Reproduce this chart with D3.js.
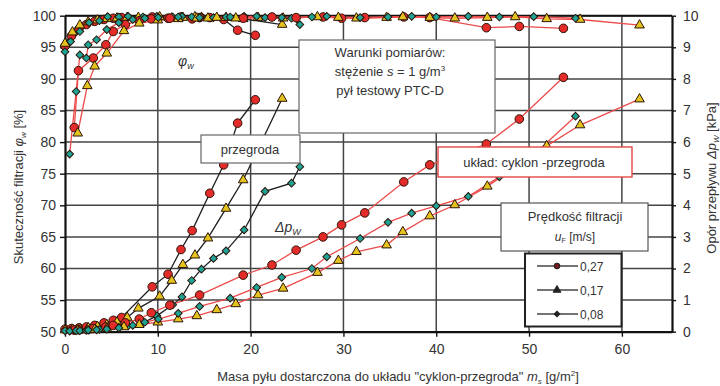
<!DOCTYPE html>
<html><head><meta charset="utf-8">
<script src="https://cdn.jsdelivr.net/npm/d3@7"></script>
<style>
body{margin:0;background:#fff}
svg{display:block;font-family:"Liberation Sans",Arial,sans-serif}
</style>
</head><body>
<svg id="chart" width="720" height="386"></svg>
<script>
// Axis ticks
const massTicks = [0, 10, 20, 30, 40, 50, 60];
const effTicks = [50, 55, 60, 65, 70, 75, 80, 85, 90, 95, 100];
const dpTicks = [0, 1, 2, 3, 4, 5, 6, 7, 8, 9, 10];

// Filter alone ("przegroda"), u_F = 0,27 / 0,17 / 0,08 m/s
const massA = [0, 0.7, 1.5, 2.3, 3.2, 4.2, 5.2, 6.1, 9.4, 11.1, 12.5, 13.7, 15.6, 17.1, 18.6, 20.5];
const effA  = [95.2, 96.8, 97.9, 98.6, 99.1, 99.4, 99.6, 99.7, 99.8, 99.6, 99.8, 99.5, 99.7, 99.4, 97.7, 96.9];
const dpA   = [0.08, 0.10, 0.12, 0.15, 0.20, 0.28, 0.36, 0.45, 1.42, 1.82, 2.60, 3.20, 4.38, 5.28, 6.60, 7.34];

const massB = [0, 0.8, 1.6, 2.5, 3.5, 4.5, 5.6, 6.7, 7.9, 10.2, 11.5, 12.7, 14.0, 15.4, 17.35, 19.2, 23.4];
const effB  = [95.6, 97.4, 98.5, 99.0, 99.3, 99.5, 99.6, 99.7, 99.7, 99.8, 99.6, 99.7, 99.8, 99.6, 99.7, 99.5, 98.6];
const dpB   = [0.05, 0.07, 0.10, 0.12, 0.16, 0.22, 0.30, 0.45, 0.74, 1.12, 1.62, 2.12, 2.42, 2.96, 3.90, 4.80, 7.38];

const massC = [0, 0.6, 1.6, 2.6, 3.7, 4.6, 5.8, 6.8, 8.4, 9.9, 11.6, 12.6, 13.65, 14.7, 16.0, 17.35, 19.3, 21.55, 24.4, 25.3];
const effC  = [94.3, 95.9, 97.5, 98.9, 99.2, 99.85, 99.8, 99.9, 99.8, 99.9, 99.8, 99.9, 99.8, 99.9, 99.7, 99.8, 99.9, 99.7, 99.6, 98.6];
const dpC   = [0.03, 0.04, 0.05, 0.06, 0.07, 0.10, 0.14, 0.18, 0.28, 0.50, 0.85, 1.10, 1.62, 1.98, 2.32, 2.56, 3.22, 4.44, 4.70, 5.22];

// Cyclone + filter system ("cyklon-przegroda")
const massD = [1.0, 1.45, 3.05, 4.4, 5.2, 6.5, 8.0, 9.3, 11.3, 14.5, 19.2, 22.3, 24.9, 27.8, 29.8, 32.3, 36.5, 39.3, 45.4, 48.95, 53.7];
const effD  = [82.3, 91.3, 93.3, 95.4, 97.5, 98.6, 99.2, 99.5, 99.6, 99.7, 99.6, 99.8, 99.7, 99.8, 99.6, 99.7, 99.8, 99.7, 98.1, 98.3, 98.0];
const dpD   = [0.05, 0.06, 0.10, 0.15, 0.20, 0.28, 0.40, 0.60, 0.84, 1.16, 1.79, 2.11, 2.58, 3.00, 3.38, 3.76, 4.74, 5.28, 5.94, 6.73, 8.05];

const massE = [1.37, 2.4, 3.2, 4.5, 6.35, 8.0, 10.0, 12.2, 14.2, 16.35, 18.4, 20.8, 23.5, 27.2, 29.45, 31.4, 34.65, 36.4, 39.3, 42.0, 45.5, 48.5, 51.9, 55.5, 61.9];
const effE  = [81.4, 88.9, 92.0, 94.05, 97.6, 98.8, 99.3, 99.5, 99.6, 99.7, 99.6, 99.7, 99.6, 99.8, 99.7, 99.6, 99.7, 99.8, 99.7, 99.6, 99.7, 99.8, 99.5, 99.4, 98.5];
const dpE   = [0.03, 0.05, 0.07, 0.10, 0.15, 0.22, 0.30, 0.40, 0.50, 0.69, 0.88, 1.16, 1.37, 1.87, 2.25, 2.53, 2.74, 3.16, 3.66, 4.01, 4.60, 5.20, 5.88, 6.54, 7.36];

const massF = [0.5, 1.2, 1.6, 2.3, 2.5, 3.4, 4.5, 5.8, 7.3, 8.6, 10.05, 12.2, 14.5, 17.8, 20.65, 23.35, 26.6, 28.2, 31.8, 34.8, 37.35, 40.0, 43.45, 46.8, 50.5, 55.0];
const effF  = [78.1, 88.0, 93.8, 93.3, 95.4, 96.2, 97.8, 98.9, 99.4, 99.6, 99.7, 99.8, 99.7, 99.8, 99.9, 99.7, 99.8, 99.9, 99.7, 99.8, 99.9, 99.8, 99.9, 99.8, 99.85, 99.6];
const dpF   = [0.02, 0.03, 0.03, 0.04, 0.05, 0.06, 0.08, 0.12, 0.20, 0.30, 0.40, 0.58, 0.80, 1.06, 1.40, 1.72, 2.00, 2.37, 2.95, 3.46, 3.75, 3.98, 4.28, 4.90, 5.60, 6.82];

const speedLabels = ["0,27", "0,17", "0,08"];

const svg = d3.select("#chart");
const plotLeft = 65, plotRight = 672, plotTop = 15.7, plotBottom = 331.7;

const x = d3.scaleLinear().domain([0, 65.4]).range([plotLeft, plotRight]);
const yEff = d3.scaleLinear().domain([50, 100]).range([plotBottom, plotTop]);
const yDp = d3.scaleLinear().domain([0, 10]).range([plotBottom, plotTop]);

// marker styles; the diamond is a square turned by 45°
const styles = {
  circle: {sym: d3.symbolCircle, size: 58, rot: 0, fill: "#e32b2a"},
  triangle: {sym: d3.symbolTriangle, size: 40, rot: 0, fill: "#e5c31e"},
  diamond: {sym: d3.symbolSquare, size: 30, rot: 45, fill: "#1fa396"}
};

const runs = [
  {mass: massA, eff: effA, dp: dpA, mk: "circle", line: "#1e1e1e"},
  {mass: massB, eff: effB, dp: dpB, mk: "triangle", line: "#1e1e1e"},
  {mass: massC, eff: effC, dp: dpC, mk: "diamond", line: "#1e1e1e"},
  {mass: massD, eff: effD, dp: dpD, mk: "circle", line: "#ec4b4b"},
  {mass: massE, eff: effE, dp: dpE, mk: "triangle", line: "#ec4b4b"},
  {mass: massF, eff: effF, dp: dpF, mk: "diamond", line: "#ec4b4b"}
];

// grid
const grid = svg.append("g");
grid.selectAll("line.v").data(massTicks.filter(d => d > 0)).join("line")
  .attr("x1", d => x(d)).attr("x2", d => x(d)).attr("y1", plotTop).attr("y2", plotBottom)
  .attr("stroke", "#444").attr("stroke-width", 1.5);
grid.selectAll("line.h").data(effTicks.filter(d => d > 50)).join("line")
  .attr("x1", plotLeft).attr("x2", plotRight).attr("y1", d => yEff(d)).attr("y2", d => yEff(d))
  .attr("stroke", "#444").attr("stroke-width", 1.5);

// axes
function styleAxis(g) {
  g.select(".domain").attr("stroke", "#111").attr("stroke-width", 2.2);
  g.selectAll(".tick line").attr("stroke", "#111").attr("stroke-width", 1.4);
  g.selectAll(".tick text").attr("fill", "#333").style("font-size", "14px");
}
svg.append("g").attr("transform", `translate(${plotLeft},0)`)
  .call(d3.axisLeft(yEff).tickValues(effTicks).tickSize(5).tickSizeOuter(0).tickPadding(4))
  .call(styleAxis);
svg.append("g").attr("transform", `translate(0,${plotBottom})`)
  .call(d3.axisBottom(x).tickValues(massTicks).tickSize(5).tickSizeOuter(0).tickPadding(7))
  .call(styleAxis);
svg.append("g").attr("transform", `translate(${plotRight},0)`)
  .call(d3.axisRight(yDp).tickValues(dpTicks).tickSize(4).tickSizeOuter(0).tickPadding(7))
  .call(styleAxis);
svg.append("line").attr("x1", plotLeft).attr("x2", plotRight).attr("y1", plotTop).attr("y2", plotTop)
  .attr("stroke", "#111").attr("stroke-width", 2);

// series lines
const plot = svg.append("g");
const lineEff = d3.line().x(d => x(d[0])).y(d => yEff(d[1]));
const lineDp = d3.line().x(d => x(d[0])).y(d => yDp(d[1]));
runs.forEach(r => {
  const e = r.mass.map((m, i) => [m, r.eff[i]]);
  const p = r.mass.map((m, i) => [m, r.dp[i]]);
  plot.append("path").attr("d", lineEff(e)).attr("fill", "none").attr("stroke", r.line).attr("stroke-width", 1.3);
  plot.append("path").attr("d", lineDp(p)).attr("fill", "none").attr("stroke", r.line).attr("stroke-width", 1.3);
});
// markers
runs.forEach(r => {
  const s = styles[r.mk];
  const sym = d3.symbol().type(s.sym).size(s.size);
  const pts = r.mass.map((m, i) => ({m, e: r.eff[i], p: r.dp[i]}));
  plot.selectAll(null).data(pts).join("path")
    .attr("d", sym).attr("transform", d => `translate(${x(d.m)},${yEff(d.e)}) rotate(${s.rot})`)
    .attr("fill", s.fill).attr("stroke", "#2b1508").attr("stroke-width", 1);
  plot.selectAll(null).data(pts).join("path")
    .attr("d", sym).attr("transform", d => `translate(${x(d.m)},${yDp(d.p)}) rotate(${s.rot})`)
    .attr("fill", s.fill).attr("stroke", "#2b1508").attr("stroke-width", 1);
});

// annotations
const ann = svg.append("g").style("font-size", "13px").attr("fill", "#333");
const phi = ann.append("text").attr("x", 178).attr("y", 66).style("font-style", "italic").style("font-size", "14px");
phi.append("tspan").text("φ");
phi.append("tspan").attr("dy", 3).style("font-size", "9px").text("w");

const dpl = ann.append("text").attr("x", 275).attr("y", 232).style("font-style", "italic").style("font-size", "14px");
dpl.append("tspan").text("Δp");
dpl.append("tspan").attr("dy", 3).style("font-size", "9px").text("W");

// measurement conditions box
ann.append("rect").attr("x", 299).attr("y", 40).attr("width", 196).attr("height", 93)
  .attr("fill", "#fff").attr("stroke", "#666").attr("stroke-width", 1.2);
ann.append("text").attr("x", 390).attr("y", 57).attr("text-anchor", "middle").text("Warunki pomiarów:");
const st = ann.append("text").attr("x", 390).attr("y", 76).attr("text-anchor", "middle");
st.append("tspan").text("stężenie ");
st.append("tspan").style("font-style", "italic").text("s");
st.append("tspan").text(" = 1 g/m");
st.append("tspan").attr("dy", -5).style("font-size", "8px").text("3");
ann.append("text").attr("x", 390).attr("y", 95).attr("text-anchor", "middle").text("pył testowy PTC-D");

// series group labels
ann.append("rect").attr("x", 201).attr("y", 135).attr("width", 99).attr("height", 28)
  .attr("fill", "#fff").attr("stroke", "#666").attr("stroke-width", 1.2);
ann.append("text").attr("x", 250).attr("y", 154).attr("text-anchor", "middle").text("przegroda");

ann.append("rect").attr("x", 438).attr("y", 147).attr("width", 194).attr("height", 30)
  .attr("fill", "#fff").attr("stroke", "#e44848").attr("stroke-width", 1.4);
ann.append("text").attr("x", 534).attr("y", 167).attr("text-anchor", "middle").text("układ: cyklon -przegroda");

// legend
ann.append("rect").attr("x", 501).attr("y", 203).attr("width", 147).attr("height", 48)
  .attr("fill", "#fff").attr("stroke", "#555").attr("stroke-width", 1.2);
ann.append("text").attr("x", 575).attr("y", 221).attr("text-anchor", "middle").text("Prędkość filtracji");
const uf = ann.append("text").attr("x", 575).attr("y", 241).attr("text-anchor", "middle").style("font-size", "12px");
uf.append("tspan").style("font-style", "italic").text("u");
uf.append("tspan").attr("dy", 2).style("font-size", "7px").text("F");
uf.append("tspan").attr("dy", -2).text(" [m/s]");

ann.append("rect").attr("x", 525).attr("y", 253.5).attr("width", 96.5).attr("height", 73)
  .attr("fill", "#fff").attr("stroke", "#222").attr("stroke-width", 2);
const legMarks = ["circle", "triangle", "diamond"];
const legFill = {circle: "#6e1c1c", triangle: "#222", diamond: "#222"};
const legY = [266, 290, 314];
legMarks.forEach((k, i) => {
  const g = ann.append("g");
  g.append("line").attr("x1", 537).attr("x2", 578).attr("y1", legY[i]).attr("y2", legY[i])
    .attr("stroke", "#444").attr("stroke-width", 1.4);
  g.append("path").attr("d", d3.symbol().type(styles[k].sym).size(k === "diamond" ? 16 : 26))
    .attr("transform", `translate(557,${legY[i]}) rotate(${styles[k].rot})`)
    .attr("fill", legFill[k]).attr("stroke", "#222");
  g.append("text").attr("x", 580).attr("y", legY[i] + 4.5).style("font-size", "12px").text(speedLabels[i]);
});

// axis titles
const yl = svg.append("text").attr("transform", "translate(23,187) rotate(-90)")
  .attr("text-anchor", "middle").attr("fill", "#333").style("font-size", "13px");
yl.append("tspan").text("Skuteczność filtracji ");
yl.append("tspan").style("font-style", "italic").text("φ");
yl.append("tspan").attr("dy", 3).style("font-size", "8px").style("font-style", "italic").text("w");
yl.append("tspan").attr("dy", -3).text(" [%]");

const yr = svg.append("text").attr("transform", "translate(716,178) rotate(-90)")
  .attr("text-anchor", "middle").attr("fill", "#333").style("font-size", "13px");
yr.append("tspan").text("Opór przepływu ");
yr.append("tspan").style("font-style", "italic").text("Δp");
yr.append("tspan").attr("dy", 3).style("font-size", "8px").style("font-style", "italic").text("W");
yr.append("tspan").attr("dy", -3).text(" [kPa]");

const xl = svg.append("text").attr("x", 398).attr("y", 381)
  .attr("text-anchor", "middle").attr("fill", "#333").style("font-size", "13px");
xl.append("tspan").text("Masa pyłu dostarczona do układu \"cyklon-przegroda\" ");
xl.append("tspan").style("font-style", "italic").text("m");
xl.append("tspan").attr("dy", 3).style("font-size", "8px").style("font-style", "italic").text("s");
xl.append("tspan").attr("dy", -3).text(" [g/m");
xl.append("tspan").attr("dy", -5).style("font-size", "8px").text("2");
xl.append("tspan").attr("dy", 5).text("]");
</script>
</body></html>
